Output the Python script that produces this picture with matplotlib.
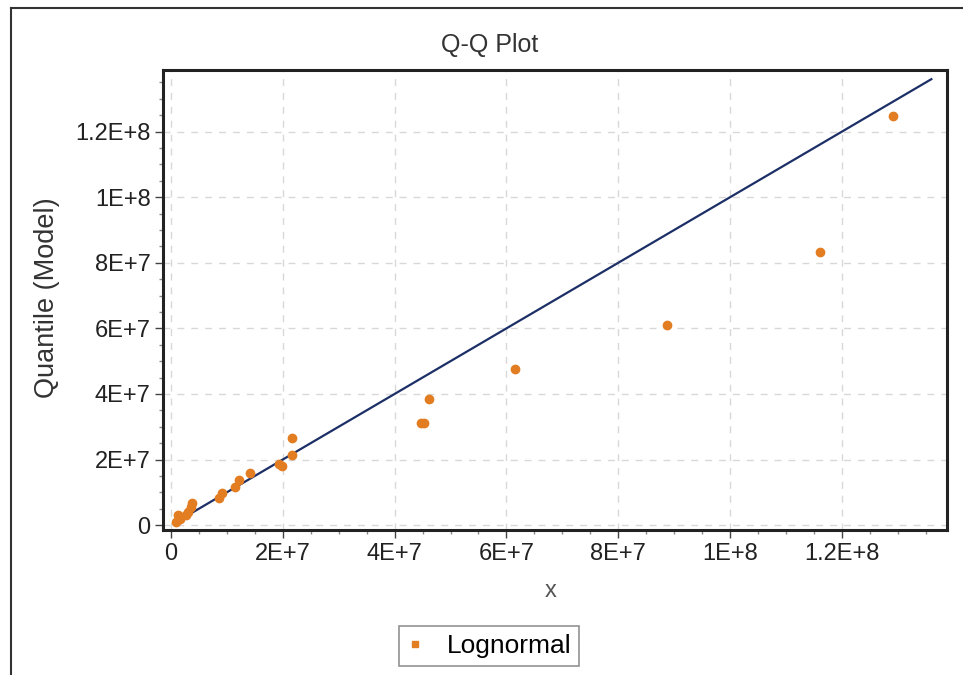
import matplotlib.pyplot as plt
from matplotlib.ticker import MultipleLocator, FuncFormatter
from matplotlib.lines import Line2D

plt.rcParams['font.family'] = ['Liberation Sans', 'DejaVu Sans']

x_emp = [0.9e6, 1.3e6, 1.6e6, 2.7e6, 3.1e6, 3.5e6, 3.7e6, 8.6e6, 9.2e6,
         1.15e7, 1.22e7, 1.41e7, 1.93e7, 1.99e7, 2.16e7, 2.16e7,
         4.47e7, 4.52e7, 4.62e7, 6.15e7, 8.87e7, 1.161e8, 1.292e8]
q_model = [1.0e6, 3.0e6, 2.0e6, 3.0e6, 4.1e6, 5.4e6, 6.8e6, 8.4e6, 9.9e6,
           1.15e7, 1.37e7, 1.58e7, 1.86e7, 1.80e7, 2.14e7, 2.65e7,
           3.12e7, 3.12e7, 3.84e7, 4.75e7, 6.1e7, 8.33e7, 1.248e8]

# reference line y = x
ref_x = [1.0e6, 1.36e8]

orange = '#e27d22'
navy = '#1c2f66'

fig = plt.figure(figsize=(9.63, 6.75), dpi=100)
ax = fig.add_axes([163 / 963, 1 - 530 / 675, (947 - 163) / 963, (530 - 70) / 675])

ax.plot(ref_x, ref_x, color=navy, lw=1.6, zorder=2)
ax.plot(x_emp, q_model, 'o', color=orange, ms=6, mec=orange, zorder=3)

ax.set_xlim(-1.43e6, 1.388e8)
ax.set_ylim(-1.5e6, 1.388e8)

def sci(v, pos):
    if abs(v) < 1:
        return '0'
    e = 0
    m = v
    while abs(m) >= 10:
        m /= 10
        e += 1
    ms = ('%.1f' % m).rstrip('0').rstrip('.')
    return '%sE+%d' % (ms, e)

for a in (ax.xaxis, ax.yaxis):
    a.set_major_locator(MultipleLocator(2e7))
    a.set_minor_locator(MultipleLocator(5e6))
    a.set_major_formatter(FuncFormatter(sci))

ax.tick_params(which='major', length=6, width=1, labelsize=17, color='#444444',
               labelcolor='#222222', pad=3)
ax.tick_params(which='minor', length=3, width=1, color='#888888')
for s in ax.spines.values():
    s.set_linewidth(2.2)
    s.set_color('#222222')

ax.grid(True, which='major', color='#d8d8d8', ls=(0, (5, 5)), lw=1)
ax.set_axisbelow(True)

fig.text(490 / 963, 1 - 45 / 675, 'Q-Q Plot', ha='center', va='center', fontsize=18, color='#333333')
fig.text(47 / 963, 1 - 298 / 675, 'Quantile (Model)', ha='center', va='center', rotation=90,
         fontsize=19.5, color='#333333')
fig.text(551 / 963, 1 - 591 / 675, 'x', ha='center', va='center', fontsize=17, color='#555555')

handle = Line2D([], [], marker='s', ls='none', color=orange, ms=5)
leg = fig.legend([handle], ['Lognormal'], loc='center', bbox_to_anchor=(489 / 963, 1 - 646 / 675),
                 fontsize=19, frameon=True, fancybox=False, handlelength=0.6, handletextpad=0.9,
                 borderpad=0.3, borderaxespad=0)
leg.get_frame().set_edgecolor('#777777')
leg.get_frame().set_linewidth(1.2)

# outer frame (left and top edges)
fig.add_artist(Line2D([11 / 963, 11 / 963], [0, 1 - 8 / 675], transform=fig.transFigure,
                      color='#333333', lw=1.5))
fig.add_artist(Line2D([11 / 963, 1], [1 - 8 / 675, 1 - 8 / 675], transform=fig.transFigure,
                      color='#333333', lw=1.5))

fig.savefig('out.png', dpi=100)
